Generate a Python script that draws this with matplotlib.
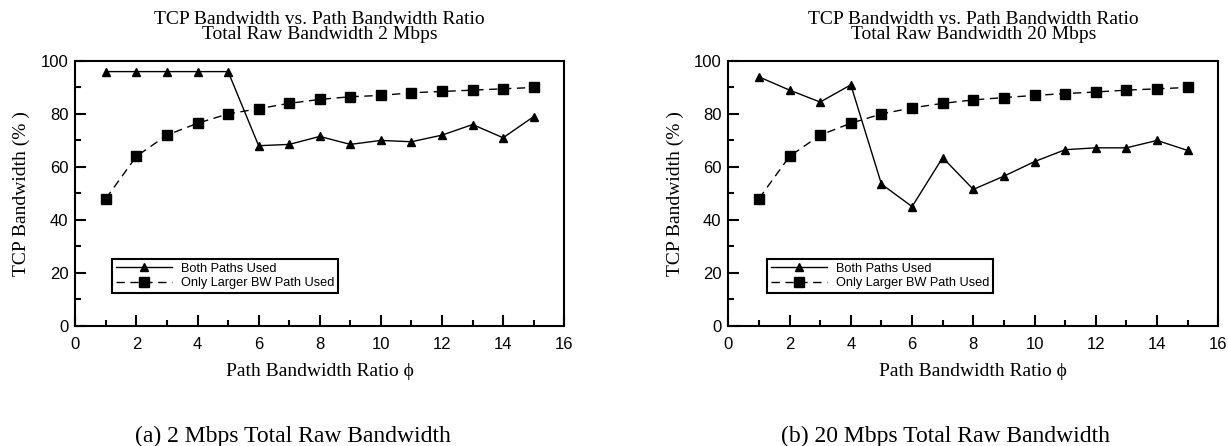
import matplotlib
matplotlib.use('Agg')
import matplotlib.pyplot as plt
from matplotlib.ticker import MultipleLocator

# path bandwidth ratio
ratio = [1, 2, 3, 4, 5, 6, 7, 8, 9, 10, 11, 12, 13, 14, 15]

# (a) 2 Mbps total raw bandwidth
both_2m = [96, 96, 96, 96, 96, 68, 68.5, 71.5, 68.5, 70, 69.5, 72, 76, 71, 79]
larger_2m = [48, 64, 72, 76.5, 80, 82, 84, 85.5, 86.5, 87, 88, 88.5, 89, 89.5, 90]

# (b) 20 Mbps total raw bandwidth
both_20m = [94, 89, 84.5, 91, 53.5, 45, 63.5, 51.5, 56.5, 62, 66.5, 67.2, 67.2, 70, 66.2]
larger_20m = [48, 64, 72, 76.5, 80, 82.3, 84, 85.3, 86.2, 87, 87.7, 88.3, 89, 89.5, 90]

titles = ['TCP Bandwidth vs. Path Bandwidth Ratio\nTotal Raw Bandwidth 2 Mbps',
          'TCP Bandwidth vs. Path Bandwidth Ratio\nTotal Raw Bandwidth 20 Mbps']
captions = ['(a) 2 Mbps Total Raw Bandwidth', '(b) 20 Mbps Total Raw Bandwidth']

serif = ['Liberation Serif', 'DejaVu Serif']
sans = ['Liberation Sans', 'DejaVu Sans']

fig = plt.figure(figsize=[12.28, 4.46], dpi=100)

axes_pos = [[0.0613, 0.2697, 0.3982, 0.5935],
            [0.5931, 0.2697, 0.3990, 0.5935]]
leg_x = [0.075, 0.079]
cap_x = [0.2386, 0.770]
ylab_x = [0.017, 0.550]

data = [(both_2m, larger_2m), (both_20m, larger_20m)]

for i in range(2):
    ax = fig.add_axes(axes_pos[i])
    both, larger = data[i]
    ax.plot(ratio, both, '-', color='black', lw=1.0, marker='^', markersize=6,
            label='Both Paths Used')
    ax.plot(ratio, larger, '--', color='black', lw=1.0, marker='s', markersize=7,
            dashes=(6, 4), label='Only Larger BW Path Used')

    ax.set_xlim(0, 16)
    ax.set_ylim(0, 100)
    ax.xaxis.set_major_locator(MultipleLocator(2))
    ax.xaxis.set_minor_locator(MultipleLocator(1))
    ax.yaxis.set_major_locator(MultipleLocator(20))
    ax.yaxis.set_minor_locator(MultipleLocator(10))
    ax.tick_params(which='both', direction='in', top=False, right=False, width=1.5)
    ax.tick_params(which='major', length=8, labelsize=12, pad=5)
    ax.tick_params(axis='x', which='major', pad=8)
    ax.tick_params(which='minor', length=4)
    for lab in ax.get_xticklabels() + ax.get_yticklabels():
        lab.set_family(sans)
    for sp in ax.spines.values():
        sp.set_linewidth(1.5)

    ax.set_title(titles[i], fontsize=14, family=serif, linespacing=0.82, pad=16)
    ax.set_xlabel('Path Bandwidth Ratio \u03d5', fontsize=14, family=serif, labelpad=8)

    leg = ax.legend(loc='lower left', bbox_to_anchor=(leg_x[i], 0.1235), borderaxespad=0,
                    frameon=True, fancybox=False, edgecolor='black', framealpha=1,
                    prop={'family': sans, 'size': 9.2}, handlelength=4.4,
                    labelspacing=0.2, borderpad=0.3, handletextpad=0.7)
    leg.get_frame().set_linewidth(1.5)

    fig.text(ylab_x[i], 0.565, 'TCP Bandwidth (% )', fontsize=14, family=serif,
             rotation=90, ha='center', va='center')
    fig.text(cap_x[i], 0.0224, captions[i], fontsize=17, family=serif, ha='center', va='center')

plt.savefig('out.png')
